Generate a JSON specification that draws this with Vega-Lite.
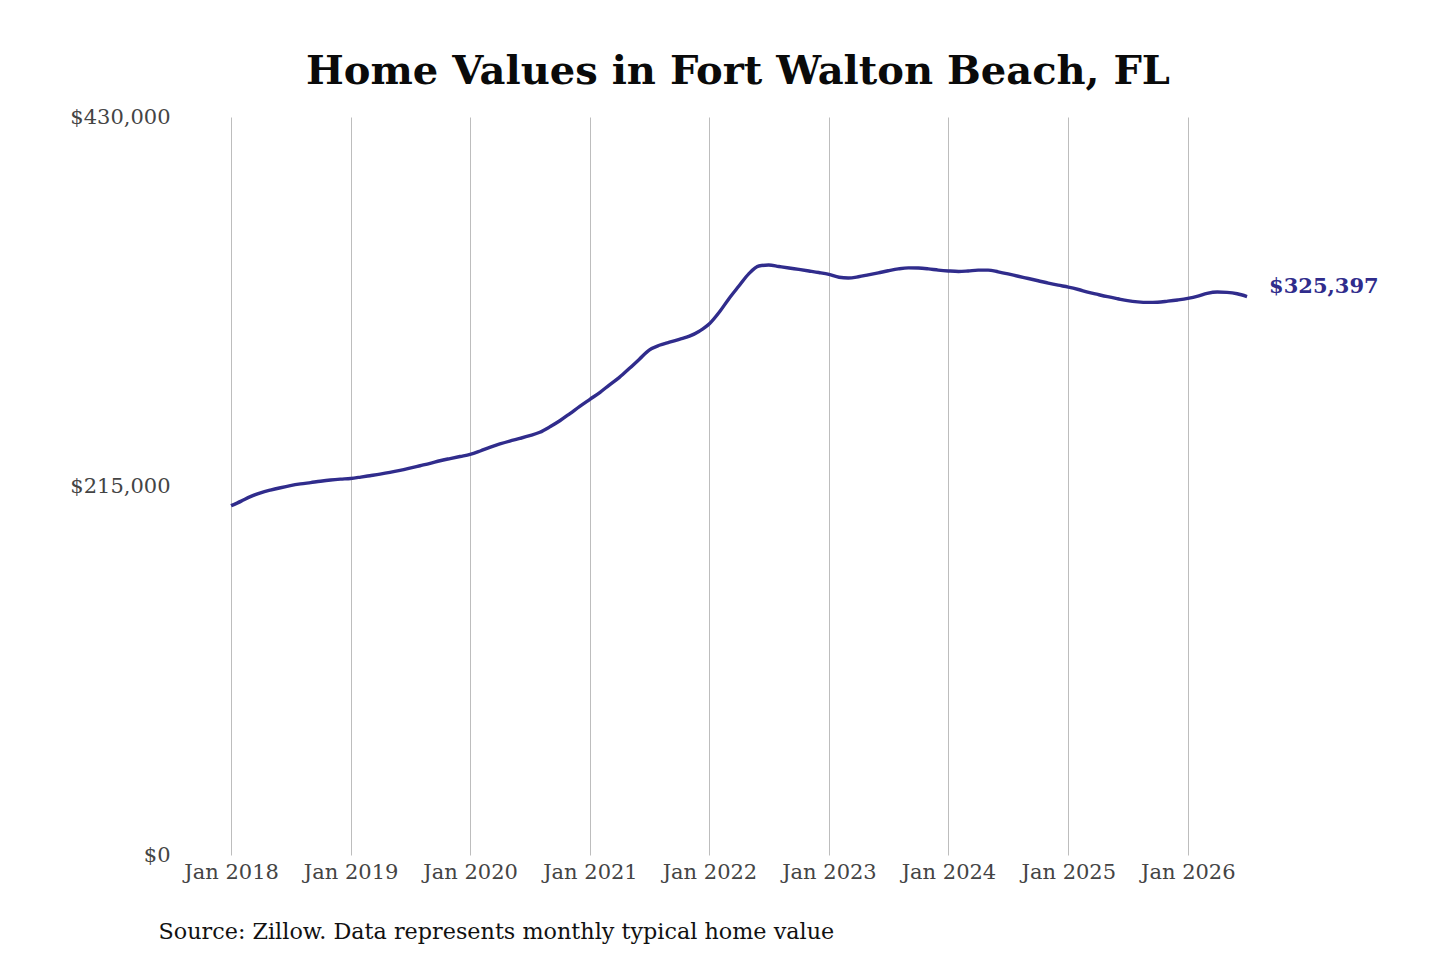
{
  "$schema": "https://vega.github.io/schema/vega-lite/v6.json",
  "autosize": "none",
  "width": 1070,
  "height": 738,
  "padding": {"left": 180, "top": 117, "right": 190, "bottom": 105},
  "background": "white",
  "config": {"view": {"stroke": null}, "font": "DejaVu Serif"},
  "title": {"text": "Home Values in Fort Walton Beach, FL", "font": "DejaVu Serif", "fontSize": 40, "fontWeight": "bold", "color": "#0a0a0a", "anchor": "middle", "offset": 14, "dx": 23},
  "data": {"values": [
    {"date": "2018-01-01", "value": 203500}, {"date": "2018-02-01", "value": 206200}, {"date": "2018-03-01", "value": 208800}, {"date": "2018-04-01", "value": 211000}, {"date": "2018-05-01", "value": 212600}, {"date": "2018-06-01", "value": 214000}, {"date": "2018-07-01", "value": 215200}, {"date": "2018-08-01", "value": 216200}, {"date": "2018-09-01", "value": 217000}, {"date": "2018-10-01", "value": 217800}, {"date": "2018-11-01", "value": 218500}, {"date": "2018-12-01", "value": 219000},
    {"date": "2019-01-01", "value": 219400}, {"date": "2019-02-01", "value": 220200}, {"date": "2019-03-01", "value": 221000}, {"date": "2019-04-01", "value": 221900}, {"date": "2019-05-01", "value": 222900}, {"date": "2019-06-01", "value": 224100}, {"date": "2019-07-01", "value": 225400}, {"date": "2019-08-01", "value": 226800}, {"date": "2019-09-01", "value": 228200}, {"date": "2019-10-01", "value": 229700}, {"date": "2019-11-01", "value": 231000}, {"date": "2019-12-01", "value": 232200},
    {"date": "2020-01-01", "value": 233400}, {"date": "2020-02-01", "value": 235400}, {"date": "2020-03-01", "value": 237500}, {"date": "2020-04-01", "value": 239500}, {"date": "2020-05-01", "value": 241200}, {"date": "2020-06-01", "value": 242700}, {"date": "2020-07-01", "value": 244300}, {"date": "2020-08-01", "value": 246300}, {"date": "2020-09-01", "value": 249500}, {"date": "2020-10-01", "value": 253000}, {"date": "2020-11-01", "value": 257200}, {"date": "2020-12-01", "value": 261400},
    {"date": "2021-01-01", "value": 265500}, {"date": "2021-02-01", "value": 269600}, {"date": "2021-03-01", "value": 273800}, {"date": "2021-04-01", "value": 278300}, {"date": "2021-05-01", "value": 283400}, {"date": "2021-06-01", "value": 288900}, {"date": "2021-07-01", "value": 294200}, {"date": "2021-08-01", "value": 297000}, {"date": "2021-09-01", "value": 298800}, {"date": "2021-10-01", "value": 300500}, {"date": "2021-11-01", "value": 302300}, {"date": "2021-12-01", "value": 305200},
    {"date": "2022-01-01", "value": 309500}, {"date": "2022-02-01", "value": 316500}, {"date": "2022-03-01", "value": 324000}, {"date": "2022-04-01", "value": 331500}, {"date": "2022-05-01", "value": 338600}, {"date": "2022-06-01", "value": 343200}, {"date": "2022-07-01", "value": 343800}, {"date": "2022-08-01", "value": 342900}, {"date": "2022-09-01", "value": 342000}, {"date": "2022-10-01", "value": 341200}, {"date": "2022-11-01", "value": 340300}, {"date": "2022-12-01", "value": 339400},
    {"date": "2023-01-01", "value": 338300}, {"date": "2023-02-01", "value": 336600}, {"date": "2023-03-01", "value": 336200}, {"date": "2023-04-01", "value": 336900}, {"date": "2023-05-01", "value": 338000}, {"date": "2023-06-01", "value": 339200}, {"date": "2023-07-01", "value": 340400}, {"date": "2023-08-01", "value": 341500}, {"date": "2023-09-01", "value": 342100}, {"date": "2023-10-01", "value": 342000}, {"date": "2023-11-01", "value": 341500}, {"date": "2023-12-01", "value": 340800},
    {"date": "2024-01-01", "value": 340300}, {"date": "2024-02-01", "value": 340000}, {"date": "2024-03-01", "value": 340300}, {"date": "2024-04-01", "value": 340800}, {"date": "2024-05-01", "value": 340800}, {"date": "2024-06-01", "value": 339800}, {"date": "2024-07-01", "value": 338600}, {"date": "2024-08-01", "value": 337200}, {"date": "2024-09-01", "value": 335900}, {"date": "2024-10-01", "value": 334600}, {"date": "2024-11-01", "value": 333200}, {"date": "2024-12-01", "value": 332000},
    {"date": "2025-01-01", "value": 330900}, {"date": "2025-02-01", "value": 329500}, {"date": "2025-03-01", "value": 328000}, {"date": "2025-04-01", "value": 326600}, {"date": "2025-05-01", "value": 325300}, {"date": "2025-06-01", "value": 324100}, {"date": "2025-07-01", "value": 323000}, {"date": "2025-08-01", "value": 322300}, {"date": "2025-09-01", "value": 322000}, {"date": "2025-10-01", "value": 322100}, {"date": "2025-11-01", "value": 322700}, {"date": "2025-12-01", "value": 323400},
    {"date": "2026-01-01", "value": 324300}, {"date": "2026-02-01", "value": 325600}, {"date": "2026-03-01", "value": 327200}, {"date": "2026-04-01", "value": 328000}, {"date": "2026-05-01", "value": 327800}, {"date": "2026-06-01", "value": 327000}, {"date": "2026-07-01", "value": 325397, "label": "$325,397"}
  ]},
  "encoding": {
    "x": {
      "field": "date", "type": "temporal",
      "scale": {"type": "utc", "domain": [{"year": 2017, "month": 7, "date": 29, "utc": true}, {"year": 2026, "month": 7, "date": 10, "utc": true}]},
      "axis": {
        "format": "%b %Y", "tickCount": {"interval": "year", "step": 1},
        "grid": true, "gridColor": "#bdbdbd", "gridWidth": 1,
        "domain": false, "ticks": false, "tickSize": 0,
        "labelFont": "DejaVu Serif", "labelFontSize": 21, "labelColor": "#444444", "labelPadding": 6,
        "title": "Source: Zillow. Data represents monthly typical home value",
        "titleFont": "DejaVu Serif", "titleFontSize": 22.3, "titleFontWeight": "normal", "titleColor": "#111111",
        "titleAnchor": "start", "titleAlign": "left", "titleBaseline": "middle", "titleX": -22, "titleY": 76
      }
    },
    "y": {
      "field": "value", "type": "quantitative",
      "scale": {"domain": [0, 430000], "nice": false, "zero": true},
      "axis": {
        "values": [0, 215000, 430000], "format": "$,.0f",
        "grid": false, "domain": false, "ticks": false, "tickSize": 0,
        "labelFont": "DejaVu Serif", "labelFontSize": 21, "labelColor": "#444444", "labelPadding": 10,
        "title": null
      }
    }
  },
  "layer": [
    {"mark": {"type": "line", "color": "#302c8c", "strokeWidth": 3.4, "interpolate": "monotone"}},
    {
      "transform": [{"filter": "isValid(datum.label)"}],
      "mark": {"type": "text", "align": "left", "baseline": "middle", "dx": 22, "dy": -10, "font": "DejaVu Serif", "fontSize": 21, "fontWeight": "bold", "color": "#302c8c"},
      "encoding": {"text": {"field": "label"}}
    }
  ]
}
